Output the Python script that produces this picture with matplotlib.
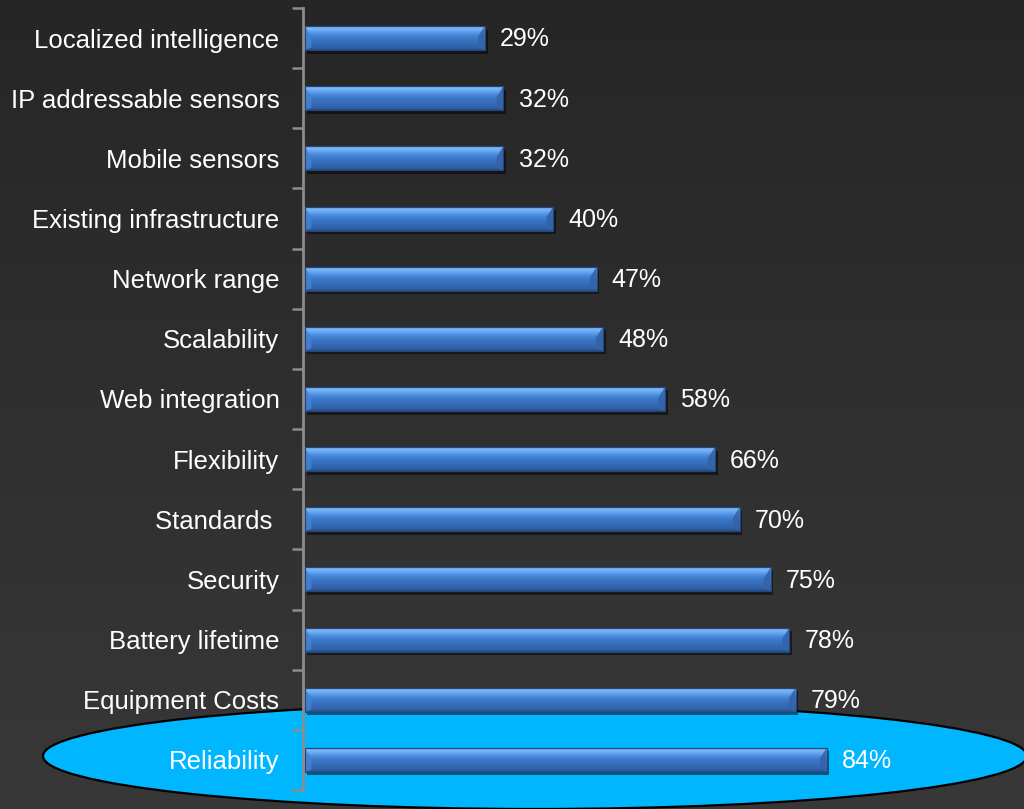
import numpy as np
import matplotlib
matplotlib.use("Agg")
import matplotlib.pyplot as plt
from matplotlib.patches import Ellipse, Polygon
from matplotlib.colors import LinearSegmentedColormap
import matplotlib.patheffects as pe

categories = ["Localized intelligence", "IP addressable sensors", "Mobile sensors",
              "Existing infrastructure", "Network range", "Scalability",
              "Web integration", "Flexibility", "Standards ", "Security",
              "Battery lifetime", "Equipment Costs", "Reliability"]
values = [29, 32, 32, 40, 47, 48, 58, 66, 70, 75, 78, 79, 84]
value_labels = [f"{v}%" for v in values]

FONT = ["Liberation Sans", "DejaVu Sans"]
plt.rcParams['font.family'] = FONT

W, H = 1024, 809
fig = plt.figure(figsize=(W / 100, H / 100), dpi=100)

# background with vertical gradient and highlight ellipse (pixel coordinates, y down)
bg = fig.add_axes([0, 0, 1, 1], zorder=0)
bg.set_axis_off()
bg_cmap = LinearSegmentedColormap.from_list("bg", ["#262626", "#383838"])
bg.imshow(np.linspace(0, 1, 256).reshape(-1, 1), aspect='auto', cmap=bg_cmap,
          extent=(0, W, H, 0), origin='upper')
bg.add_patch(Ellipse((535, 756), 984, 106, facecolor="#00b7ff",
                     edgecolor="black", linewidth=1.6))
bg.set_xlim(0, W)
bg.set_ylim(H, 0)

# main chart
ax = fig.add_axes([303 / W, 19 / H, 1 - 303 / W, (790 - 8) / H], zorder=1)
ax.patch.set_alpha(0)
n = len(categories)
ypos = np.arange(n)[::-1]
bh = 0.40
bars = ax.barh(ypos, values, height=bh, left=0.25, color="#4a86d4",
               edgecolor="#24467a", linewidth=0.8, zorder=2)
for b in bars:
    b.set_path_effects([pe.SimplePatchShadow(offset=(2, -2.5), shadow_rgbFace="black",
                                             alpha=0.5), pe.Normal()])

bar_cmap = LinearSegmentedColormap.from_list("bar", [
    (0.0, "#264e88"), (0.1, "#3062a8"), (0.45, "#3b76c6"), (0.6, "#4686d9"),
    (0.76, "#66a5ef"), (0.88, "#7cb8f7"), (1.0, "#4f88d2")])
grad = np.linspace(0, 1, 64).reshape(-1, 1)
bw = 1.1
for b in bars:
    x0, y0 = b.get_x(), b.get_y()
    x1, y1 = x0 + b.get_width(), y0 + b.get_height()
    h = y1 - y0
    im = ax.imshow(grad, extent=(x0, x1, y0, y1), origin='lower', aspect='auto',
                   cmap=bar_cmap, zorder=2.1)
    im.set_clip_path(b)
    ax.add_patch(Polygon([(x1 - bw, y1 - 0.45 * h), (x1, y1), (x1, y0),
                          (x1 - bw, y0 + 0.1 * h)], closed=True,
                         facecolor="#3463a8", edgecolor="none", alpha=0.9, zorder=2.2))
    ax.add_patch(Polygon([(x0, y1), (x0 + bw, y1 - 0.45 * h),
                          (x0 + bw, y0 + 0.1 * h), (x0, y0)], closed=True,
                         facecolor="#4482d2", edgecolor="none", alpha=0.85, zorder=2.2))
    ax.add_patch(plt.Rectangle((x0, y0), x1 - x0, h, facecolor="none",
                               edgecolor="#24467a", linewidth=0.8, zorder=2.3))

for y, v, lbl in zip(ypos, values, value_labels):
    ax.annotate(lbl, xy=(v, y), xytext=(12, -1), textcoords='offset points',
                va='center', ha='left', color="white", fontsize=18)

ax.set_xlim(0, 116)
ax.set_ylim(-0.5, n - 0.5)
for s in ["top", "right", "bottom"]:
    ax.spines[s].set_visible(False)
ax.spines["left"].set_color("#8c8c8c")
ax.spines["left"].set_linewidth(2)
ax.set_xticks([])
ax.set_yticks(ypos, categories)
ax.set_yticks(np.arange(-0.5, n, 1), minor=True)
ax.tick_params(axis='y', which='major', length=0, pad=17, labelsize=18.5,
               labelcolor="white")
ax.tick_params(axis='y', which='minor', length=8, width=1.8, color="#8c8c8c",
               direction='out')

fig.savefig("out.png", dpi=100)
